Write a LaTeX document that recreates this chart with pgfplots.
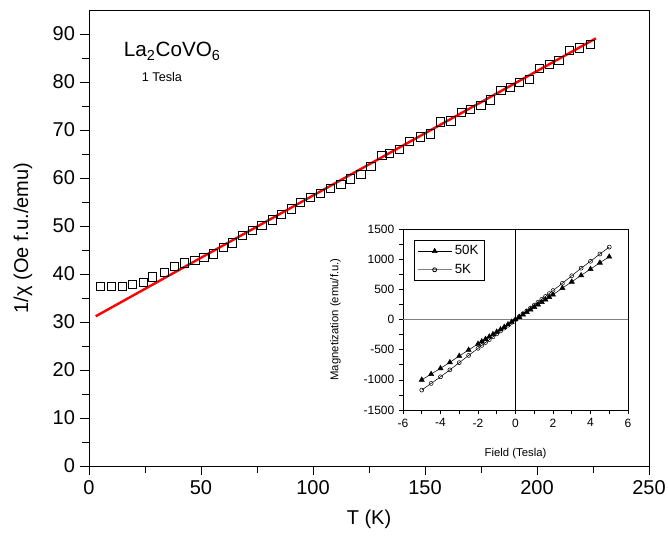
\documentclass[border=0pt]{standalone}
\usepackage{fontspec}
\setmainfont{Liberation Sans}
\usepackage{pgfplots}
\pgfplotsset{compat=1.18}
\usetikzlibrary{calc}

\begin{document}
\begin{tikzpicture}
\begin{axis}[
    name=main,
    scale only axis,
    width=420pt, height=342pt,
    xmin=0, xmax=250, ymin=0, ymax=95,
    xtick={0,50,...,250}, ytick={0,10,...,90},
    minor x tick num=1, minor y tick num=1,
    axis x line*=bottom, axis y line*=left,
    tick align=outside,
    major tick length=7pt, minor tick length=5pt,
    tick style={black, line width=0.6pt},
    axis line style={line width=0.6pt},
    /pgf/number format/assume math mode=true,
    ticklabel style={font=\fontsize{15}{17}\selectfont},
    xlabel={T (K)}, ylabel={1/χ (Oe f.u./emu)},
    label style={font=\fontsize{15}{17}\selectfont},
    xlabel style={at={(axis description cs:0.5,-0.118)}, anchor=center},
    ylabel style={at={(axis description cs:-0.118,0.5)}, anchor=center},
    clip=false,
]
% frame top and right
\draw[line width=0.6pt] (rel axis cs:0,1) -- (rel axis cs:1,1) -- (rel axis cs:1,0);
\addplot[only marks, mark=square, mark size=3.1pt, mark options={black, line width=0.5pt}]
coordinates {
(5.2,37.5) (10.1,37.5) (14.9,37.5) (19.5,37.9) (24.1,38.3) (28.4,39.4)
(33.5,40.4) (38.2,41.6) (42.7,42.3) (47.2,42.8) (51.3,43.4) (55.5,44.2)
(60.0,45.5) (64.1,46.5) (68.6,48.0) (72.8,49.1) (77.2,50.1) (81.7,51.3)
(85.9,52.5) (90.3,53.6) (94.5,54.9) (98.9,56.0) (103.4,56.8) (107.9,57.8)
(112.4,58.7) (116.8,59.8) (121.3,60.8) (125.8,62.4) (130.7,64.7) (134.1,65.2)
(138.5,66.0) (143.0,67.7) (147.8,68.6) (152.4,69.2) (157.0,71.7) (161.5,71.9)
(166.1,73.7) (170.4,74.3) (174.9,75.2) (179.3,76.3) (183.8,78.2) (188.0,78.9)
(192.1,80.0) (196.6,80.5) (201.0,82.9) (205.4,83.7) (209.8,84.5) (214.4,86.6)
(219.0,87.1) (223.7,87.8)
};
\addplot[red, line width=1.8pt] coordinates {(3,31.2) (226.3,89.1)};
\node[anchor=base west, font=\fontsize{15.5}{17}\selectfont] at (axis cs:13.5,85.3) {La$_{\mathrm{2}}$CoVO$_{\mathrm{6}}$};
\node[anchor=base west, font=\fontsize{9.5}{11}\selectfont] at (axis cs:21.5,80.2) {1 Tesla};
\end{axis}

\begin{axis}[
    at={($(main.south west)+(235.5pt,42pt)$)}, anchor=south west,
    scale only axis,
    width=168.75pt, height=135.75pt,
    xmin=-6, xmax=6, ymin=-1500, ymax=1500,
    xtick={-6,-4,...,6}, ytick={-1500,-1000,...,1500},
    minor x tick num=1, minor y tick num=1,
    axis x line*=bottom, axis y line*=left,
    tick align=outside,
    major tick length=3pt, minor tick length=3pt,
    tick style={black, line width=0.4pt},
    /pgf/number format/assume math mode=true,
    /pgf/number format/1000 sep={},
    ticklabel style={font=\fontsize{9}{10}\selectfont},
    xlabel={Field (Tesla)}, ylabel={Magnetization (emu/f.u.)},
    label style={font=\fontsize{8.5}{10}\selectfont},
    xlabel style={at={(axis description cs:0.5,-0.24)}, anchor=center},
    ylabel style={at={(axis description cs:-0.30,0.5)}, anchor=center},
    legend style={at={(axis cs:-5.4,1318)}, anchor=north west, draw=black,
        font=\fontsize{10}{12}\selectfont, inner xsep=2pt, inner ysep=2pt,
        row sep=1.5pt},
    legend image code/.code={
        \draw[mark repeat=2, mark phase=2] plot coordinates {(0cm,0cm) (0.45cm,0cm) (0.9cm,0cm)};},
    legend cell align=left,
    clip=false,
]
\draw[line width=0.4pt] (rel axis cs:0,1) -- (rel axis cs:1,1) -- (rel axis cs:1,0);
\draw[black, line width=0.4pt] (axis cs:0,-1500) -- (axis cs:0,1500);
\draw[gray, line width=0.6pt] (axis cs:-6,0) -- (axis cs:6,0);
\addplot[black, line width=0.4pt, mark=triangle*, mark size=2.2pt, mark options={black}]
coordinates {
(-5,-1000) (-4.5,-905) (-4,-810) (-3.5,-710) (-3,-605) (-2.5,-505) (-2,-405)
(-1.8,-365) (-1.6,-325) (-1.4,-285) (-1.2,-245) (-1,-205) (-0.8,-165) (-0.6,-125)
(-0.4,-82) (-0.2,-41) (0,0) (0.2,41) (0.4,82) (0.6,123) (0.8,164) (1,205)
(1.2,246) (1.4,287) (1.6,328) (1.8,369) (2,410) (2.5,520) (3,625) (3.5,730)
(4,835) (4.5,940) (5,1040)
};
\addlegendentry{50K}
\addplot[black, line width=0.4pt, mark=o, mark size=1.5pt, mark options={black, fill=white}, forget plot]
coordinates {
(-5,-1170) (-4.5,-1060) (-4,-950) (-3.5,-835) (-3,-715) (-2.5,-595) (-2,-478)
(-1.8,-430) (-1.6,-382) (-1.4,-334) (-1.2,-286) (-1,-238) (-0.8,-190) (-0.6,-143)
(-0.4,-95) (-0.2,-48) (0,0) (0.2,48) (0.4,95) (0.6,143) (0.8,190) (1,238)
(1.2,286) (1.4,334) (1.6,382) (1.8,430) (2,480) (2.5,600) (3,725) (3.5,850)
(4,965) (4.5,1085) (5,1200)
};
\addlegendimage{gray, line width=0.6pt, mark=o, mark size=1.5pt, mark options={black, fill=white}}
\addlegendentry{5K}
\end{axis}
\pgfresetboundingbox
\path ($(main.south west)+(-66.75pt,-56.25pt)$) rectangle ($(main.south west)+(434.25pt,349.5pt)$);
\end{tikzpicture}
\end{document}
